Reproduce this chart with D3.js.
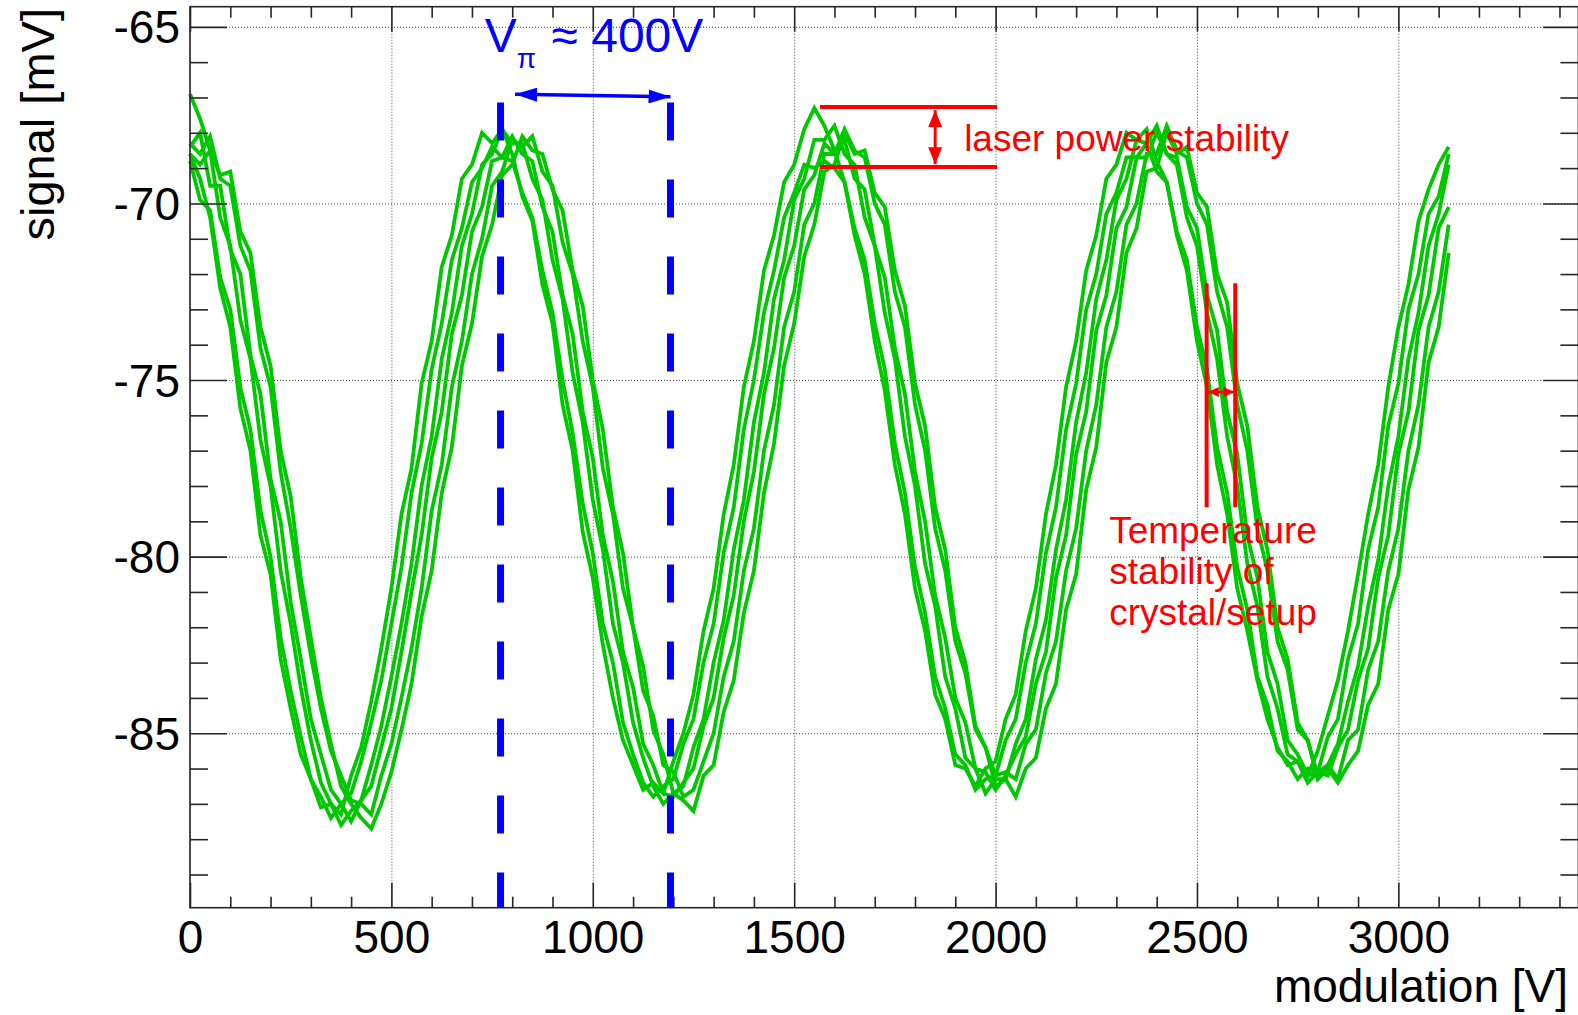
<!DOCTYPE html>
<html><head><meta charset="utf-8">
<script src="https://cdn.jsdelivr.net/npm/d3@7"></script>
<style>
body{margin:0;background:#fff}
svg{display:block;font-family:"Liberation Sans",Arial,Helvetica,sans-serif}
</style>
</head><body>
<svg id="chart" width="1578" height="1015"></svg>
<script>
// ---- data (signal in mV, sampled every 25 V of modulation, 0 ... 3125 V) ----
const modulationStep = 25;
const trace1 = [-68.6,-69.3,-70.4,-72.4,-73.5,-75.8,-77.0,-79.4,-80.5,-82.9,-84.3,
-85.6,-86.3,-87.1,-87.0,-87.3,-86.2,-85.4,-84.1,-82.6,-80.9,
-78.8,-77.5,-75.1,-73.9,-71.8,-70.9,-69.3,-68.9,-68.0,-68.3,
-67.9,-68.6,-69.8,-70.5,-72.3,-73.4,-75.7,-77.0,-79.3,-80.6,
-82.5,-84.0,-85.2,-85.9,-86.6,-86.4,-86.7,-85.8,-85.0,-83.9,
-82.1,-80.9,-78.8,-77.4,-75.2,-73.9,-71.9,-70.9,-69.4,-68.9,
-67.9,-67.3,-67.8,-68.5,-69.4,-70.9,-72.0,-73.9,-75.3,-77.4,
-78.8,-80.9,-82.1,-83.9,-84.6,-85.9,-86.0,-86.5,-86.0,-85.8,
-84.6,-83.9,-82.1,-80.9,-78.8,-77.4,-75.2,-73.9,-71.9,-70.9,
-69.3,-68.9,-68.0,-68.2,-67.9,-68.8,-69.4,-70.9,-71.9,-73.9,
-75.2,-77.4,-78.8,-80.9,-82.1,-83.5,-84.6,-85.4,-85.9,-85.8,
-86.2,-85.5,-84.5,-83.5,-82.1,-80.5,-78.8,-77.4,-75.2,-73.5,
-72.3,-70.5,-69.6,-68.9,-68.4];
const trace2 = [-68.8,-69.9,-70.2,-72.1,-73.0,-75.2,-76.4,-78.7,-80.0,-82.3,-83.8,
-85.1,-86.3,-86.8,-87.4,-87.0,-86.7,-85.8,-84.7,-83.5,-81.9,
-80.3,-78.2,-76.8,-74.7,-73.4,-71.6,-70.7,-69.4,-69.0,-68.4,
-68.7,-68.8,-69.7,-70.4,-71.9,-73.1,-75.0,-76.5,-78.5,-79.9,
-81.9,-83.0,-84.7,-85.6,-86.4,-86.8,-86.5,-86.3,-85.3,-84.6,
-83.0,-81.9,-79.9,-78.6,-76.4,-75.0,-73.1,-71.9,-70.4,-69.7,
-68.9,-69.0,-68.8,-69.0,-69.4,-70.7,-71.6,-73.4,-74.7,-76.8,
-78.2,-80.3,-81.6,-83.4,-84.3,-85.6,-85.9,-86.6,-86.3,-86.2,
-85.2,-84.6,-83.0,-81.9,-79.9,-78.6,-76.4,-75.1,-73.0,-72.0,
-70.3,-69.7,-68.7,-68.7,-68.3,-69.1,-69.4,-70.8,-71.6,-73.5,
-74.7,-76.9,-78.2,-80.3,-81.5,-83.4,-84.2,-85.5,-85.8,-86.3,
-86.0,-86.1,-85.1,-84.6,-82.9,-81.9,-79.8,-78.6,-76.3,-75.1,
-73.0,-72.0,-70.3,-69.8,-68.6];
const trace3 = [-66.9,-67.6,-68.5,-70.4,-71.2,-73.3,-74.4,-76.7,-78.0,-80.4,-81.9,
-83.7,-85.2,-86.4,-87.0,-87.6,-87.2,-86.9,-85.9,-84.8,-83.4,
-81.9,-80.2,-78.0,-76.6,-74.4,-73.1,-71.2,-70.3,-68.9,-68.6,
-67.9,-68.3,-68.3,-69.3,-69.9,-71.6,-72.7,-74.8,-76.2,-78.4,
-79.8,-81.9,-83.0,-84.7,-85.7,-86.5,-87.0,-86.7,-86.5,-85.4,
-84.6,-83.0,-81.8,-79.8,-78.4,-76.2,-74.8,-72.7,-71.6,-69.9,
-69.3,-68.2,-68.2,-67.8,-68.6,-68.9,-70.4,-71.2,-73.1,-74.4,
-76.6,-78.0,-80.2,-81.4,-83.4,-84.3,-85.7,-86.0,-86.7,-86.3,
-86.3,-85.3,-84.6,-82.9,-81.8,-79.8,-78.4,-76.2,-74.8,-72.7,
-71.6,-69.9,-69.3,-68.2,-68.3,-67.8,-68.6,-68.9,-70.4,-71.2,
-73.1,-74.4,-76.6,-78.0,-80.2,-81.4,-83.4,-84.3,-85.6,-85.8,
-86.4,-86.1,-85.9,-85.3,-84.1,-83.1,-81.4,-80.1,-78.0,-76.6,
-74.4,-73.1,-71.2,-70.3,-68.9];
const trace4 = [-68.4,-68.0,-69.5,-69.5,-71.3,-72.0,-74.3,-75.4,-77.8,-79.0,-81.3,
-82.9,-84.6,-85.6,-86.6,-87.0,-87.5,-86.9,-86.5,-85.4,-84.3,
-82.7,-81.0,-79.4,-77.2,-75.9,-73.7,-72.6,-70.8,-70.1,-68.8,
-68.7,-68.1,-68.6,-68.8,-70.1,-70.8,-72.6,-73.7,-75.9,-77.2,
-79.4,-80.7,-82.7,-83.7,-85.3,-85.9,-86.7,-86.8,-86.4,-86.0,
-84.8,-84.0,-82.3,-81.1,-79.0,-77.6,-75.4,-74.1,-72.1,-71.2,
-69.6,-69.2,-68.3,-68.6,-68.2,-69.3,-69.6,-71.2,-72.1,-74.1,
-75.4,-77.6,-79.0,-81.1,-82.3,-84.0,-84.7,-86.0,-86.1,-86.6,
-86.2,-85.6,-85.1,-83.6,-82.7,-80.6,-79.4,-77.1,-75.9,-73.6,
-72.6,-70.7,-70.1,-68.7,-68.7,-68.0,-68.6,-68.7,-70.1,-70.7,
-72.6,-73.6,-75.9,-77.1,-79.4,-80.6,-82.7,-83.6,-85.2,-85.6,
-86.2,-86.1,-86.2,-85.4,-84.9,-83.5,-82.6,-80.6,-79.4,-77.1,
-75.9,-73.6,-72.6,-70.7,-70.1];
const trace5 = [-68.3,-68.6,-68.1,-69.3,-69.5,-71.2,-71.9,-74.1,-75.2,-77.6,-79.2,
-81.1,-82.8,-84.3,-85.5,-86.2,-86.9,-87.0,-87.3,-86.2,-85.3,
-84.0,-82.6,-80.9,-78.7,-77.4,-75.2,-73.9,-72.0,-71.0,-69.5,
-69.1,-68.2,-68.4,-68.1,-69.1,-69.5,-71.1,-72.0,-73.9,-75.2,
-77.5,-78.8,-80.9,-82.0,-83.8,-84.5,-85.9,-86.1,-86.8,-86.6,
-85.8,-85.0,-83.4,-82.4,-80.4,-79.2,-77.0,-75.7,-73.5,-72.5,
-70.6,-70.0,-68.6,-68.6,-67.9,-68.5,-68.7,-70.0,-70.6,-72.5,
-73.5,-75.7,-77.0,-79.2,-80.4,-82.4,-83.3,-84.9,-85.4,-86.2,
-86.1,-86.3,-85.3,-84.9,-83.3,-82.4,-80.4,-79.2,-77.0,-75.7,
-73.5,-72.5,-70.6,-70.0,-68.6,-68.6,-67.8,-68.5,-68.7,-70.0,
-70.6,-72.5,-73.5,-75.7,-77.0,-79.2,-80.4,-82.4,-83.2,-84.9,
-85.2,-86.2,-85.9,-86.3,-85.2,-84.9,-83.2,-82.4,-80.4,-79.2,
-77.0,-75.7,-73.5,-72.5,-70.6];
const trace6 = [-68.6,-68.9,-68.5,-69.2,-69.1,-70.8,-71.4,-73.5,-74.6,-77.0,-78.3,
-80.6,-82.3,-84.0,-85.3,-86.5,-87.0,-87.4,-87.7,-87.0,-86.1,
-84.9,-83.6,-81.7,-80.4,-78.2,-76.9,-74.6,-73.4,-71.5,-70.6,
-69.2,-68.9,-68.1,-68.5,-68.6,-69.6,-70.2,-71.9,-72.9,-75.0,
-76.4,-78.6,-79.9,-82.0,-83.1,-84.9,-85.6,-86.7,-86.9,-87.2,
-86.2,-85.9,-84.4,-83.5,-81.6,-80.4,-78.2,-76.8,-74.6,-73.4,
-71.5,-70.6,-69.1,-68.9,-68.0,-68.6,-68.5,-69.7,-70.1,-71.9,
-72.9,-75.1,-76.3,-78.6,-79.8,-82.0,-83.0,-84.8,-85.4,-86.5,
-86.3,-86.8,-86.0,-85.7,-84.3,-83.6,-81.5,-80.5,-78.1,-76.9,
-74.5,-73.5,-71.4,-70.7,-69.1,-69.0,-68.0,-68.6,-68.4,-69.7,
-70.1,-72.0,-72.8,-75.1,-76.3,-78.6,-79.8,-82.0,-82.9,-84.7,
-85.2,-86.3,-86.0,-86.4,-85.9,-85.5,-84.2,-83.6,-81.5,-80.5,
-78.1,-76.9,-74.5,-73.5,-71.4];
const traces = [trace1, trace2, trace3, trace4, trace5, trace6];

// axis ticks
const xMajorTicks = [0, 500, 1000, 1500, 2000, 2500, 3000];
const xMinorTicks = [100,200,300,400,600,700,800,900,1100,1200,1300,1400,1600,1700,1800,1900,
  2100,2200,2300,2400,2600,2700,2800,2900,3100,3200,3300,3400];
const yMajorTicks = [-65, -70, -75, -80, -85];
const yMinorTicks = [-66,-67,-68,-69,-71,-72,-73,-74,-76,-77,-78,-79,-81,-82,-83,-84,-86,-87,-88,-89];

// annotations (data units)
const vpiLines = [771, 1193];
const vpiArrow = [[807, -66.91], [1193, -66.98]];
const vpiLabelPos = [732, -65.72];
const powerLevels = [-67.27, -68.97];
const powerSpan = [1564, 2004];
const powerArrow = [[1850, -67.36], [1850, -68.89]];
const powerLabelPos = [1922, -68.52];
const tempLines = [2524, 2595];
const tempSpan = [-72.26, -78.6];
const tempArrow = [[2527, -75.34], [2593, -75.34]];
const tempLabelLines = ["Temperature", "stability of", "crystal/setup"];
const tempLabelPos = [2282, -79.62];

// ---- drawing ----
const svg = d3.select("#chart");
const pL = 190, pR = 1578.4, pT = 6.7, pB = 907.7;
const x = d3.scaleLinear().domain([0, 3447]).range([pL, pR]);
const y = d3.scaleLinear().domain([-89.94, -64.43]).range([pB, pT]);
const axisColor = "#262626";
const plainNum = d => String(d);

// grid
svg.append("g").attr("transform", `translate(0,${pB})`)
  .call(d3.axisBottom(x).tickValues(xMajorTicks).tickSize(-(pB - pT)).tickFormat(""))
  .call(g => g.select(".domain").remove())
  .call(g => g.selectAll("line").attr("stroke", "#444").attr("stroke-dasharray", "1,2"));
svg.append("g").attr("transform", `translate(${pL},0)`)
  .call(d3.axisLeft(y).tickValues(yMajorTicks).tickSize(-(pR - pL)).tickFormat(""))
  .call(g => g.select(".domain").remove())
  .call(g => g.selectAll("line").attr("stroke", "#444").attr("stroke-dasharray", "1,2"));

// traces
const line = d3.line().x((d, i) => x(i * modulationStep)).y(d => y(d));
svg.append("g").selectAll("path").data(traces).join("path")
  .attr("d", line).attr("fill", "none").attr("stroke", "#00c800")
  .attr("stroke-width", 3.8).attr("stroke-linejoin", "miter").attr("stroke-miterlimit", 3);

// frame axes with ticks
function styleAxis(g) {
  g.select(".domain").remove();
  g.selectAll("line").attr("stroke", axisColor).attr("stroke-width", 1.6);
}
const fontSize = 46;
svg.append("g").attr("transform", `translate(0,${pB})`)
  .call(d3.axisBottom(x).tickValues(xMajorTicks).tickSize(-25).tickPadding(13).tickFormat(plainNum))
  .call(styleAxis)
  .call(g => g.selectAll("text").attr("fill", "#000").attr("font-size", fontSize).attr("font-family", "Liberation Sans, Arial, sans-serif"));
svg.append("g").attr("transform", `translate(0,${pB})`)
  .call(d3.axisBottom(x).tickValues(xMinorTicks).tickSize(-11).tickFormat(""))
  .call(styleAxis);
svg.append("g").attr("transform", `translate(0,${pT})`)
  .call(d3.axisTop(x).tickValues(xMajorTicks).tickSize(-25).tickFormat(""))
  .call(styleAxis);
svg.append("g").attr("transform", `translate(0,${pT})`)
  .call(d3.axisTop(x).tickValues(xMinorTicks).tickSize(-11).tickFormat(""))
  .call(styleAxis);
svg.append("g").attr("transform", `translate(${pL},0)`)
  .call(d3.axisLeft(y).tickValues(yMajorTicks).tickSize(-37).tickPadding(10).tickFormat(plainNum))
  .call(styleAxis)
  .call(g => g.selectAll("text").attr("fill", "#000").attr("font-size", fontSize)
    .attr("dy", "0.35em").attr("font-family", "Liberation Sans, Arial, sans-serif"));
svg.append("g").attr("transform", `translate(${pL},0)`)
  .call(d3.axisLeft(y).tickValues(yMinorTicks).tickSize(-18).tickFormat(""))
  .call(styleAxis);
svg.append("g").attr("transform", `translate(${pR},0)`)
  .call(d3.axisRight(y).tickValues(yMajorTicks).tickSize(-35).tickFormat(""))
  .call(styleAxis);
svg.append("g").attr("transform", `translate(${pR},0)`)
  .call(d3.axisRight(y).tickValues(yMinorTicks).tickSize(-18).tickFormat(""))
  .call(styleAxis);
svg.append("rect").attr("x", pL).attr("y", pT).attr("width", pR - pL).attr("height", pB - pT)
  .attr("fill", "none").attr("stroke", axisColor).attr("stroke-width", 1.6);

// axis titles
svg.append("text").attr("x", 1568).attr("y", 1002).attr("text-anchor", "end")
  .attr("font-size", 46).attr("fill", "#000").text("modulation [V]");
svg.append("text").attr("transform", "translate(54,8) rotate(-90)").attr("text-anchor", "end")
  .attr("font-size", 47).attr("fill", "#000").text("signal [mV]");

// markers
const defs = svg.append("defs");
function marker(id, color, len, half) {
  defs.append("marker").attr("id", id).attr("markerUnits", "userSpaceOnUse")
    .attr("viewBox", `0 ${-half} ${len} ${2 * half}`).attr("refX", len).attr("refY", 0)
    .attr("markerWidth", len).attr("markerHeight", 2 * half).attr("orient", "auto-start-reverse")
    .append("path").attr("d", `M0,${-half}L${len},0L0,${half}Z`).attr("fill", color);
}
marker("blueHead", "#0000ff", 22, 7);
marker("redHead", "#ff0000", 17, 7);
marker("redSmall", "#ff0000", 11, 5);

// V_pi annotation
const blue = "#0000ff";
svg.append("g").selectAll("line").data(vpiLines).join("line")
  .attr("x1", d => x(d)).attr("x2", d => x(d)).attr("y1", y(-67.14)).attr("y2", pB)
  .attr("stroke", blue).attr("stroke-width", 7).attr("stroke-dasharray", "38,39");
svg.append("line")
  .attr("x1", x(vpiArrow[0][0])).attr("y1", y(vpiArrow[0][1]))
  .attr("x2", x(vpiArrow[1][0])).attr("y2", y(vpiArrow[1][1]))
  .attr("stroke", blue).attr("stroke-width", 3.5)
  .attr("marker-start", "url(#blueHead)").attr("marker-end", "url(#blueHead)");
const vt = svg.append("text").attr("x", x(vpiLabelPos[0])).attr("y", y(vpiLabelPos[1]))
  .attr("fill", blue).attr("font-size", 48);
vt.append("tspan").text("V");
vt.append("tspan").attr("font-size", 28).attr("dy", 16).text("π");
vt.append("tspan").attr("dy", -16).attr("dx", 2).text(" ≈ 400V");

// laser power annotation
const red = "#ff0000";
svg.append("g").selectAll("line").data(powerLevels).join("line")
  .attr("x1", x(powerSpan[0])).attr("x2", x(powerSpan[1])).attr("y1", d => y(d)).attr("y2", d => y(d))
  .attr("stroke", red).attr("stroke-width", 4);
svg.append("line")
  .attr("x1", x(powerArrow[0][0])).attr("y1", y(powerArrow[0][1]))
  .attr("x2", x(powerArrow[1][0])).attr("y2", y(powerArrow[1][1]))
  .attr("stroke", red).attr("stroke-width", 3)
  .attr("marker-start", "url(#redHead)").attr("marker-end", "url(#redHead)");
svg.append("text").attr("x", x(powerLabelPos[0])).attr("y", y(powerLabelPos[1]))
  .attr("fill", red).attr("font-size", 37).text("laser power stability");

// temperature annotation
svg.append("g").selectAll("line").data(tempLines).join("line")
  .attr("x1", d => x(d)).attr("x2", d => x(d)).attr("y1", y(tempSpan[0])).attr("y2", y(tempSpan[1]))
  .attr("stroke", red).attr("stroke-width", 4);
svg.append("line")
  .attr("x1", x(tempArrow[0][0])).attr("y1", y(tempArrow[0][1]))
  .attr("x2", x(tempArrow[1][0])).attr("y2", y(tempArrow[1][1]))
  .attr("stroke", red).attr("stroke-width", 2.5)
  .attr("marker-start", "url(#redSmall)").attr("marker-end", "url(#redSmall)");
svg.append("g").selectAll("text").data(tempLabelLines).join("text")
  .attr("x", x(tempLabelPos[0])).attr("y", (d, i) => y(tempLabelPos[1]) + i * 41)
  .attr("fill", red).attr("font-size", 37).text(d => d);
</script>
</body></html>
